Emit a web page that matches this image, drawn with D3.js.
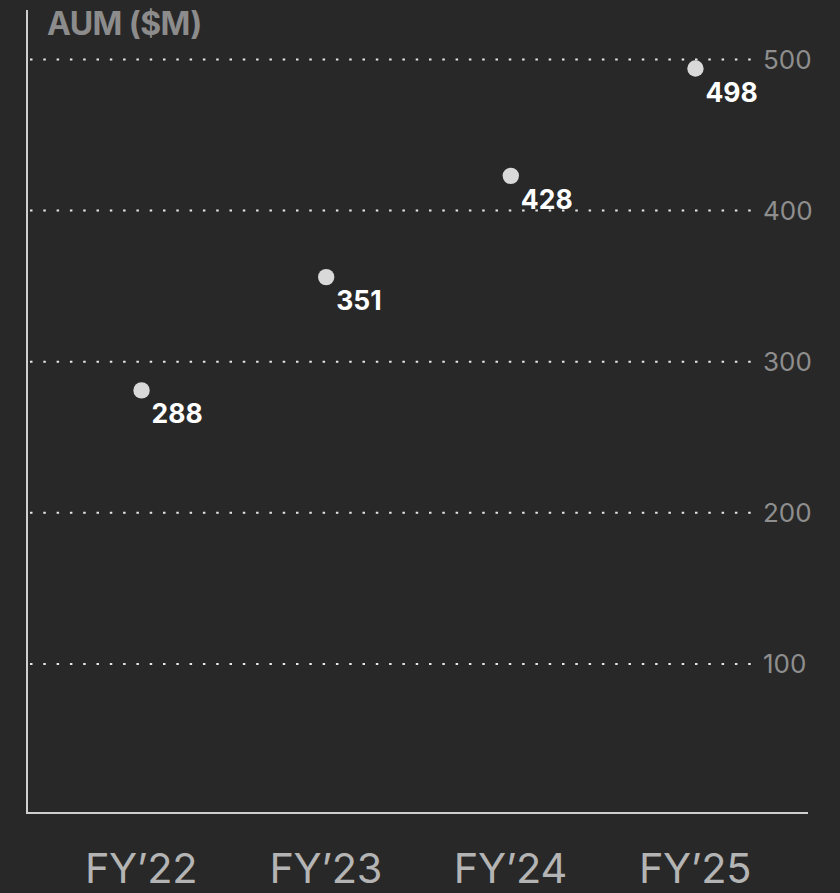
<!DOCTYPE html>
<html>
<head>
<meta charset="utf-8">
<script src="https://cdn.jsdelivr.net/npm/d3@7"></script>
<style>
  html, body { margin: 0; padding: 0; background: #282828; }
  svg { display: block; }
</style>
</head>
<body>
<svg id="chart" width="840" height="893"></svg>
<script>
// ---- data ----
const categories = ["FY\u201922", "FY\u201923", "FY\u201924", "FY\u201925"];
const aumPlotted = [281, 356, 423, 494];      // dot positions as drawn
const aumLabels  = ["288", "351", "428", "498"]; // printed value labels
const yTicks = [100, 200, 300, 400, 500];
const yTitle = "AUM ($M)";

// ---- layout ----
const svg = d3.select("#chart");
const W = 840, H = 893;
const mLeft = 27, mRight = 808, mTop = 10, mBottom = 813;

svg.append("rect").attr("width", W).attr("height", H).attr("fill", "#282828");

const x = d3.scalePoint().domain(categories).range([mLeft, mRight]).padding(0.615);
const y = d3.scaleLinear().domain([0, 500]).range([815, 59.5]);

const font = "Inter, 'Open Sans', 'Noto Sans', sans-serif";

// gridlines
svg.append("g").selectAll("line").data(yTicks).join("line")
  .attr("x1", 30).attr("x2", 757)
  .attr("y1", d => y(d)).attr("y2", d => y(d))
  .attr("stroke", "#e6e6e6").attr("stroke-width", 2)
  .attr("stroke-dasharray", "2.5,10.8");

// y tick labels (right)
svg.append("g").selectAll("text").data(yTicks).join("text")
  .attr("x", 763).attr("y", d => y(d))
  .attr("dy", "0.36em")
  .attr("fill", "#8e8e8e")
  .attr("font-family", font).attr("font-size", 26)
  .text(d => d);

// axes lines
svg.append("line").attr("x1", mLeft).attr("x2", mLeft).attr("y1", mTop).attr("y2", mBottom)
  .attr("stroke", "#cfcfcf").attr("stroke-width", 2);
svg.append("line").attr("x1", mLeft - 1).attr("x2", mRight).attr("y1", mBottom).attr("y2", mBottom)
  .attr("stroke", "#cfcfcf").attr("stroke-width", 2);

// x labels
const xAxis = d3.axisBottom(x).tickSize(0).tickPadding(0);
const gx = svg.append("g").attr("transform", `translate(0, ${mBottom})`).call(xAxis);
gx.select(".domain").remove();
gx.selectAll("text")
  .attr("y", 70).attr("dy", 0)
  .attr("fill", "#b4b4b4")
  .attr("font-family", font).attr("font-size", 41.5)
  .attr("letter-spacing", "-0.4");

// y title
svg.append("text").attr("x", 47).attr("y", 35)
  .attr("fill", "#8c8c8c")
  .attr("font-family", font).attr("font-size", 32).attr("font-weight", 700)
  .attr("letter-spacing", "-0.6")
  .text(yTitle);

// dots
svg.append("g").selectAll("circle").data(aumPlotted).join("circle")
  .attr("cx", (d, i) => x(categories[i]) + 1)
  .attr("cy", d => y(d))
  .attr("r", 8.2)
  .attr("fill", "#d9d9d9");

// value labels
svg.append("g").selectAll("text").data(aumPlotted).join("text")
  .attr("x", (d, i) => x(categories[i]) + 11)
  .attr("y", d => y(d) + 33)
  .attr("fill", "#ffffff")
  .attr("font-family", font).attr("font-size", 26.5).attr("font-weight", 700)
  .text((d, i) => aumLabels[i]);
</script>
</body>
</html>
